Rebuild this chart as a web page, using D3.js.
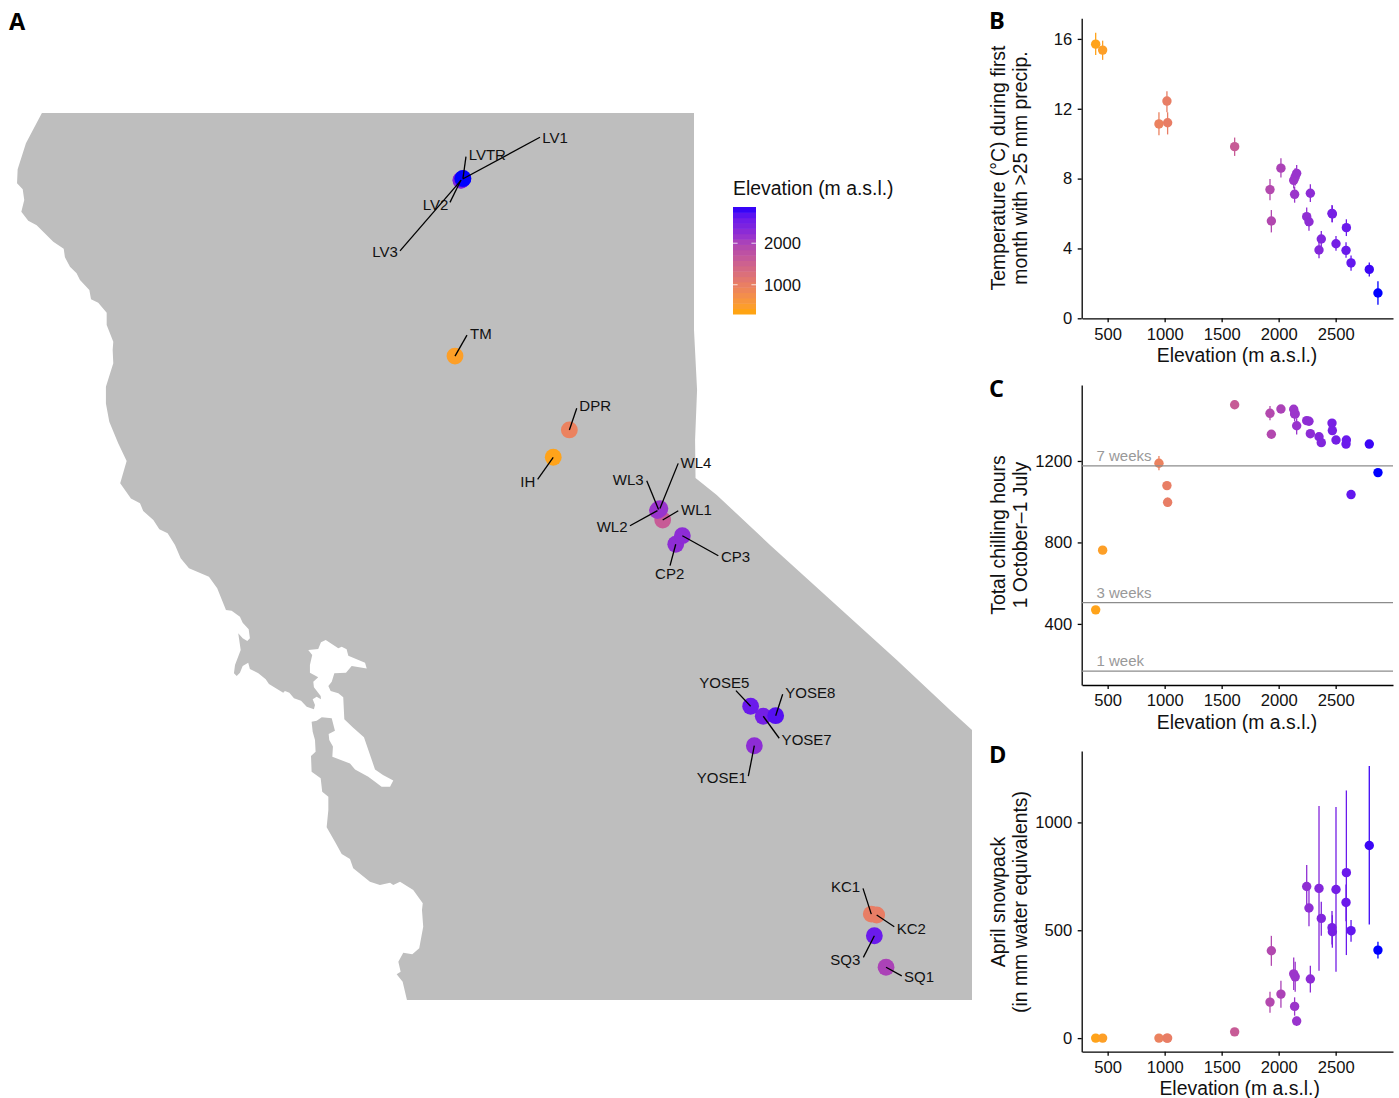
<!DOCTYPE html>
<html>
<head>
<meta charset="utf-8">
<script src="https://cdn.jsdelivr.net/npm/d3@7"></script>
<style>
	html, body { margin: 0; padding: 0; background: #fff; }
	svg { display: block; font-family: "Liberation Sans", Arial, sans-serif; }
</style>
</head>
<body>
<svg id="chart" width="1399" height="1098"></svg>
<script>
// map panel: state outline as [lon, lat], traced clockwise from the north coast
const outline = [
	[-124.248,41.005],[-124.304,40.916],[-124.352,40.839],[-124.380,40.765],[-124.406,40.696],[-124.410,40.619],
	[-124.373,40.586],[-124.363,40.527],[-124.382,40.463],[-124.337,40.414],[-124.282,40.388],[-124.174,40.298],
	[-124.106,40.260],[-124.098,40.213],[-124.065,40.161],[-124.022,40.125],[-124.000,40.088],[-123.939,40.033],
	[-123.928,39.982],[-123.881,39.963],[-123.826,39.908],[-123.826,39.841],[-123.783,39.749],[-123.787,39.703],
	[-123.783,39.630],[-123.831,39.502],[-123.831,39.410],[-123.809,39.309],[-123.751,39.191],[-123.696,39.093],
	[-123.738,38.971],[-123.668,38.888],[-123.609,38.861],[-123.588,38.819],[-123.522,38.769],[-123.483,38.718],
	[-123.429,38.696],[-123.381,38.632],[-123.344,38.559],[-123.290,38.504],[-123.160,38.458],[-123.106,38.394],
	[-123.049,38.275],[-123.012,38.271],[-122.958,38.238],[-122.940,38.205],[-122.901,38.169],[-122.893,38.119],
	[-122.910,38.104],[-122.940,38.119],[-122.969,38.147],[-122.953,38.055],[-122.990,37.973],[-122.997,37.927],
	[-122.979,37.912],[-122.958,37.930],[-122.940,37.967],[-122.904,37.985],[-122.893,37.951],[-122.838,37.927],
	[-122.790,37.894],[-122.769,37.868],[-122.676,37.820],[-122.665,37.830],[-122.636,37.820],[-122.606,37.790],
	[-122.560,37.776],[-122.523,37.743],[-122.476,37.729],[-122.469,37.753],[-122.484,37.784],[-122.458,37.798],
	[-122.430,37.784],[-122.432,37.802],[-122.476,37.850],[-122.480,37.881],[-122.448,37.905],[-122.502,37.930],
	[-122.502,37.973],[-122.487,38.027],[-122.513,38.055],[-122.448,38.060],[-122.430,38.097],[-122.399,38.110],
	[-122.317,38.064],[-122.295,38.073],[-122.263,38.059],[-122.252,38.024],[-122.143,37.985],[-122.132,37.954],
	[-122.230,37.967],[-122.267,37.930],[-122.343,37.927],[-122.360,37.881],[-122.382,37.857],[-122.367,37.830],
	[-122.317,37.817],[-122.285,37.795],[-122.278,37.674],[-122.220,37.628],[-122.150,37.575],[-122.078,37.399],
	[-122.026,37.368],[-121.959,37.338],[-121.980,37.304],[-122.035,37.304],[-122.078,37.331],[-122.122,37.359],
	[-122.208,37.399],[-122.241,37.432],[-122.356,37.469],[-122.352,37.525],[-122.376,37.560],[-122.380,37.593],
	[-122.339,37.612],[-122.360,37.680],[-122.425,37.685],[-122.458,37.666],[-122.491,37.661],[-122.484,37.606],
	[-122.469,37.560],[-122.465,37.496],[-122.495,37.473],[-122.491,37.386],[-122.432,37.350],[-122.422,37.276],
	[-122.382,37.249],[-122.382,37.176],[-122.393,37.081],[-122.339,37.002],[-122.295,36.934],[-122.241,36.907],
	[-122.220,36.856],[-122.111,36.782],[-122.046,36.764],[-121.980,36.776],[-121.959,36.764],[-121.915,36.782],
	[-121.829,36.736],[-121.767,36.663],[-121.772,36.626],[-121.764,36.535],[-121.790,36.416],[-121.835,36.383],
	[-121.894,36.392],[-121.926,36.342],[-121.911,36.287],[-121.937,36.273],[-121.898,36.232],[-121.870,36.132],
	[-118.189,36.132],[-118.189,37.615],[-118.332,37.725],[-118.679,38.000],[-119.505,38.632],[-119.852,38.907],
	[-119.990,39.000],[-119.993,39.209],[-119.980,39.484],[-120.000,39.813],[-120.000,41.005]
];

// sites on the map, drawn low to high so the highest ends up on top
const siteNames = ["IH","TM","DPR","KC1","KC2","WL1","SQ1","WL2","WL3","WL4","CP2","YOSE1","CP3","LV2","LV3","YOSE7","YOSE5","SQ3","YOSE8","LV1","LVTR"];
const siteLon = [-120.917,-121.557,-120.812,-118.845,-118.810,-120.204,-118.749,-120.238,-120.231,-120.222,-120.119,-119.607,-120.076,-121.518,-121.518,-119.549,-119.631,-118.825,-119.468,-121.507,-121.505];
const siteLat = [39.114,39.670,39.264,36.604,36.599,38.769,36.312,38.821,38.827,38.832,38.636,37.529,38.683,40.637,40.635,37.691,37.746,36.485,37.694,40.643,40.646];
const siteElev = [395,456,950,1020,1026,1614,2020,2132,2140,2158,2266,2278,2278,2354,2374,2503,2591,2594,2700,2795,2871];

// scatter panels, one entry per weather station, sorted by elevation
const elevation = [395,456,950,1020,1026,1614,1924,1936,2020,2132,2140,2145,2158,2246,2266,2278,2354,2374,2468,2471,2503,2591,2594,2635,2795,2871];

const tempMean = [15.7,15.36,11.13,12.44,11.2,9.83,7.37,5.57,8.6,7.9,7.1,8.1,8.3,5.82,5.53,7.16,3.91,4.54,6.01,5.97,4.27,3.89,5.19,3.17,2.8,1.45];
const tempLo = [15.08,14.8,10.48,11.8,10.53,9.3,6.76,4.92,8.07,7.44,6.62,7.6,7.82,5.29,5.02,6.66,3.44,4.1,5.5,5.5,3.87,3.47,4.71,2.73,2.39,0.78];
const tempHi = [16.35,15.9,11.8,13.0,11.8,10.35,7.98,6.2,9.16,8.4,7.54,8.6,8.78,6.35,6.01,7.67,4.39,5.0,6.49,6.45,4.71,4.35,5.67,3.6,3.2,2.12];

const chillMean = [469,762,1189,1079,997,1476,1434,1331,1455,1454,1431,1431,1373,1398,1395,1334,1319,1290,1386,1349,1303,1283,1303,1035,1283,1143];
const chillLo = [460,752,1155,1060,975,1455,1400,1322,1445,1440,1395,1420,1330,1390,1388,1325,1310,1280,1376,1340,1295,1275,1295,1027,1276,1135];
const chillHi = [478,772,1224,1098,1020,1497,1470,1342,1465,1468,1465,1442,1410,1406,1402,1343,1328,1300,1396,1358,1311,1291,1311,1043,1290,1151];

const snowMean = [0,0,0,0,0,29,167,405,204,298,147,284,79,703,603,274,694,555,512,493,689,629,767,498,893,408];
const snowLo = [0,0,0,0,0,25,117,335,141,223,104,215,56,609,518,212,312,474,434,419,308,542,385,447,527,369];
const snowHi = [0,0,0,0,0,33,215,474,266,374,189,354,99,802,694,335,1076,632,589,570,1071,712,1148,547,1261,447];

// chilling reference lines
const chillRefValues = [1176,504,168];
const chillRefLabels = ["7 weeks","3 weeks","1 week"];

const xTicks = [500,1000,1500,2000,2500];
const tempTicks = [0,4,8,12,16];
const chillTicks = [400,800,1200];
const snowTicks = [0,500,1000];
const legendTicks = [1000,2000];

// elevation colour ramp
const colourElev = [297,395,1000,1614,2000,2150,2400,2600,2800,2871];
const colourHex = ["#ffa500","#ffa31a","#e97f63","#c75b96","#ad44b4","#9a35cc","#7e24de","#6a1aec","#3a05f6","#0000ff"];

const INK = "#111";
const TITLE_SIZE = 19.4;
const svg = d3.select("#chart");

const colour = d3.scaleLinear()
	.domain(colourElev)
	.range(colourHex)
	.interpolate(d3.interpolateLab)
	.clamp(true);

// --- map ---
const lonScale = d3.scaleLinear().domain([-120, -118.189]).range([694, 972]);
const latScale = d3.scaleLinear().domain([39, 36.132]).range([478, 1000]);

const coastLine = d3.line()
	.x(d => lonScale(d[0]))
	.y(d => latScale(d[1]))
	.curve(d3.curveLinearClosed);

svg.append("path")
	.attr("d", coastLine(outline))
	.attr("fill", "#bebebe");

const sites = siteNames.map((name, i) => ({ name, lon: siteLon[i], lat: siteLat[i], elev: siteElev[i] }));

svg.append("g").selectAll("circle")
	.data(sites)
	.join("circle")
	.attr("cx", d => lonScale(d.lon))
	.attr("cy", d => latScale(d.lat))
	.attr("r", 8.4)
	.attr("fill", d => colour(d.elev));

// leader line end and label start, as offsets from each site
const labelOffsets = {
	LV1: [77.3,-41.7,79.6,-36], LV2: [-11,22.3,-38.3,30], LV3: [-61,70.5,-88.7,76.5], LVTR: [3,-21.8,5.7,-18.5],
	TM: [12,-21,15,-17], DPR: [7.4,-21.7,10,-19.3], IH: [-15.6,22,-33,29.4],
	WL1: [15.6,-9.3,18.3,-5], WL2: [-27.5,15.2,-60.8,21.2], WL3: [-11.8,-28.8,-45.8,-24.5], WL4: [18.3,-45.2,20.7,-40.8],
	CP2: [-5.7,21.4,-20.7,34.7], CP3: [36,20,38.7,26],
	YOSE1: [-6,30.3,-57.6,37], YOSE5: [-14.7,-15.6,-51.4,-18.6], YOSE7: [16,22,18.4,28.7], YOSE8: [7,-21.4,9.6,-18],
	KC1: [-8.3,-25.7,-40.3,-22.3], KC2: [17.6,11.7,20,18.7], SQ1: [15.7,8.7,18,14.4], SQ3: [-11,21.6,-44,29.3]
};

const siteLabels = svg.append("g").selectAll("g")
	.data(sites)
	.join("g")
	.attr("transform", d => `translate(${lonScale(d.lon)},${latScale(d.lat)})`);

siteLabels.append("line")
	.attr("x2", d => labelOffsets[d.name][0])
	.attr("y2", d => labelOffsets[d.name][1])
	.attr("stroke", "#000")
	.attr("stroke-width", 1.3);

siteLabels.append("text")
	.attr("x", d => labelOffsets[d.name][2])
	.attr("y", d => labelOffsets[d.name][3])
	.attr("font-size", 15)
	.attr("fill", INK)
	.text(d => d.name);

// --- legend ---
const legendY = d3.scaleLinear().domain([297, 2871]).range([314, 207]);
const legendBins = d3.range(20).map(i => 297 + i * (2871 - 297) / 20);
const binHeight = (2871 - 297) / 20;

svg.append("g").selectAll("rect")
	.data(legendBins)
	.join("rect")
	.attr("x", 733)
	.attr("width", 23)
	.attr("y", d => legendY(d + binHeight))
	.attr("height", d => legendY(d) - legendY(d + binHeight) + 0.5)
	.attr("fill", d => colour(d + binHeight / 2));

const legendMarks = svg.append("g").selectAll("g")
	.data(legendTicks)
	.join("g")
	.attr("transform", d => `translate(733,${legendY(d)})`);

legendMarks.append("line").attr("x2", 4.6).attr("stroke", "#fff").attr("stroke-opacity", 0.8);
legendMarks.append("line").attr("x1", 18.4).attr("x2", 23).attr("stroke", "#fff").attr("stroke-opacity", 0.8);
legendMarks.append("text")
	.attr("x", 31)
	.attr("y", 6)
	.attr("font-size", 16.6)
	.attr("fill", INK)
	.text(d => d);

svg.append("text")
	.attr("x", 733)
	.attr("y", 195)
	.attr("font-size", TITLE_SIZE)
	.attr("fill", INK)
	.text("Elevation (m a.s.l.)");

// --- scatter panels ---
const xScale = d3.scaleLinear().domain([275, 3003]).range([1082, 1393]);

function drawPanel({ top, bottom, domain, ticks, mean, lo, hi, yLines, yMid, xTitleX, xTitleY }) {
	const yScale = d3.scaleLinear().domain(domain).range([bottom, top]);
	const panel = svg.append("g");

	const xAxis = panel.append("g")
		.attr("transform", `translate(0,${bottom})`)
		.call(d3.axisBottom(xScale).tickValues(xTicks).tickFormat(d3.format("d")).tickSize(4).tickSizeOuter(0).tickPadding(5.5));

	const yAxis = panel.append("g")
		.attr("transform", "translate(1081.7,0)")
		.call(d3.axisLeft(yScale).tickValues(ticks).tickFormat(d3.format("d")).tickSize(4).tickSizeOuter(0).tickPadding(5.5));

	[xAxis, yAxis].forEach(axis => {
		axis.attr("font-family", null).attr("font-size", 16.6);
		axis.selectAll("path, line").attr("stroke", "#000").attr("stroke-width", 1.3);
		axis.selectAll("text").attr("fill", INK);
	});

	panel.append("text")
		.attr("x", xTitleX)
		.attr("y", xTitleY)
		.attr("text-anchor", "middle")
		.attr("font-size", TITLE_SIZE)
		.attr("fill", INK)
		.text("Elevation (m a.s.l.)");

	panel.selectAll(".ytitle")
		.data(yLines)
		.join("text")
		.attr("class", "ytitle")
		.attr("transform", (d, i) => `translate(${1005 + i * 21.7},${yMid}) rotate(-90)`)
		.attr("text-anchor", "middle")
		.attr("font-size", TITLE_SIZE)
		.attr("fill", INK)
		.text(d => d);

	const rows = elevation.map((elev, i) => ({ elev, mean: mean[i], lo: lo[i], hi: hi[i] }));

	panel.append("g").selectAll("line")
		.data(rows)
		.join("line")
		.attr("x1", d => xScale(d.elev))
		.attr("x2", d => xScale(d.elev))
		.attr("y1", d => yScale(d.lo))
		.attr("y2", d => yScale(d.hi))
		.attr("stroke", d => colour(d.elev))
		.attr("stroke-width", 1.3);

	panel.append("g").selectAll("circle")
		.data(rows)
		.join("circle")
		.attr("cx", d => xScale(d.elev))
		.attr("cy", d => yScale(d.mean))
		.attr("r", 4.7)
		.attr("fill", d => colour(d.elev));

	return { panel, yScale };
}

drawPanel({
	top: 18.3, bottom: 318.3, domain: [0, 17.18], ticks: tempTicks,
	mean: tempMean, lo: tempLo, hi: tempHi,
	yLines: ["Temperature (°C) during first", "month with >25 mm precip."],
	yMid: 168, xTitleX: 1237, xTitleY: 362
});

const chillPanel = drawPanel({
	top: 385, bottom: 685, domain: [100, 1573], ticks: chillTicks,
	mean: chillMean, lo: chillLo, hi: chillHi,
	yLines: ["Total chilling hours", "1 October\u20131 July"],
	yMid: 535, xTitleX: 1237, xTitleY: 729
});

const refs = chillRefValues.map((value, i) => ({ value, label: chillRefLabels[i] }));

chillPanel.panel.append("g").selectAll("line")
	.data(refs)
	.join("line")
	.attr("x1", 1082)
	.attr("x2", 1393)
	.attr("y1", d => chillPanel.yScale(d.value))
	.attr("y2", d => chillPanel.yScale(d.value))
	.attr("stroke", "#8c8c8c")
	.attr("stroke-width", 1.3);

chillPanel.panel.append("g").selectAll("text")
	.data(refs)
	.join("text")
	.attr("x", 1096.5)
	.attr("y", d => chillPanel.yScale(d.value) - 5)
	.attr("font-size", 15)
	.attr("fill", "#999")
	.text(d => d.label);

drawPanel({
	top: 751, bottom: 1051.7, domain: [-63, 1331], ticks: snowTicks,
	mean: snowMean, lo: snowLo, hi: snowHi,
	yLines: ["April snowpack", "(in mm water equivalents)"],
	yMid: 902, xTitleX: 1239.7, xTitleY: 1094.5
});

// panel letters
const panelLetters = ["A","B","C","D"];
const letterPlace = [[9,29.5],[989,29],[989,396.5],[989,763]];

svg.append("g").selectAll("text")
	.data(panelLetters)
	.join("text")
	.attr("x", (d, i) => letterPlace[i][0])
	.attr("y", (d, i) => letterPlace[i][1])
	.attr("font-family", "'Open Sans', sans-serif")
	.attr("font-weight", 700)
	.attr("font-size", 23.5)
	.attr("fill", "#000")
	.text(d => d);
</script>
</body>
</html>
